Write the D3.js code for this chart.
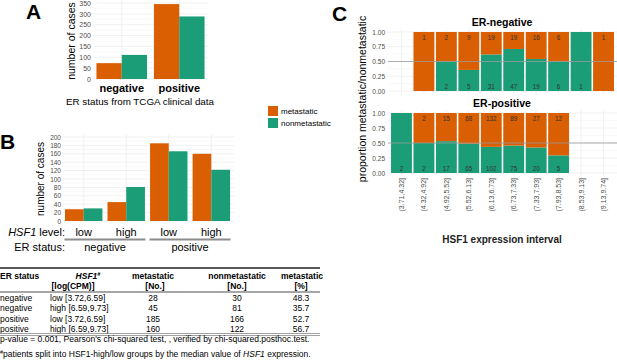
<!DOCTYPE html>
<html>
<head>
<meta charset="utf-8">
<script src="https://d3js.org/d3.v7.min.js"></script>
<style>
  body { margin: 0; background: #fff; }
  svg { font-family: "Liberation Sans", Arial, sans-serif; display: block; }
  .tick text { fill: #4d4d4d; }
</style>
</head>
<body>
<div id="chart"></div>
<script>
// ---- data ----
const colors = { metastatic: "#D95F02", nonmetastatic: "#1B9E77" };
const groups = ["metastatic", "nonmetastatic"];

// panel A
const erStatus = ["negative", "positive"];
const casesAMeta = [73, 345];
const casesANon = [111, 288];
const ticksA = [0, 50, 100, 150, 200, 250, 300, 350];

// panel B
const hsf1Level = ["low", "high", "low", "high"];
const erB = ["negative", "negative", "positive", "positive"];
const casesBMeta = [28, 45, 185, 160];
const casesBNon = [30, 81, 166, 122];
const ticksB = [0, 20, 40, 60, 80, 100, 120, 140, 160, 180, 200];

// panel C
const intervals = ["(3.71,4.32]", "(4.32,4.92]", "(4.92,5.52]", "(5.52,6.13]", "(6.13,6.73]",
  "(6.73,7.33]", "(7.33,7.93]", "(7.93,8.53]", "(8.53,9.13]", "(9.13,9.74]"];
const erNegMeta = [0, 1, 2, 9, 19, 19, 16, 6, 0, 1];
const erNegNon = [0, 0, 2, 5, 31, 47, 19, 6, 1, 0];
const erPosMeta = [0, 2, 15, 68, 132, 89, 27, 12, 0, 0];
const erPosNon = [2, 2, 17, 65, 102, 75, 20, 5, 0, 0];
const ticksC = [0, 0.25, 0.5, 0.75, 1];

// table
const tableHead1 = ["ER status", "HSF1", "metastatic", "nonmetastatic", "metastatic"];
const tableHead2 = ["", "[log(CPM)]", "[No.]", "[No.]", "[%]"];
const tableEr = ["negative", "negative", "positive", "positive"];
const tableHsf1 = ["low [3.72,6.59]", "high [6.59,9.73]", "low [3.72,6.59]", "high [6.59,9.73]"];
const tableMeta = [28, 45, 185, 160];
const tableNon = [30, 81, 166, 122];
const tablePct = ["48.3", "35.7", "52.7", "56.7"];

const W = 617, H = 363;
const svg = d3.select("#chart").append("svg").attr("width", W).attr("height", H);

const grid = "#ebebeb";

function panelLetter(t, x, y) {
  svg.append("text").attr("x", x).attr("y", y).attr("font-size", 21).attr("font-weight", "bold").text(t);
}

// ================= Panel A =================
panelLetter("A", 26, 19);
{
  const x = d3.scaleBand().domain(erStatus).range([93, 208]).paddingInner(0.12).paddingOuter(0.06);
  const xi = d3.scaleBand().domain(groups).range([0, x.bandwidth()]);
  const y = d3.scaleLinear().domain([0, 350]).range([79, 3]);
  const g = svg.append("g");
  // grid
  const minor = d3.range(25, 375, 50);
  g.selectAll(".mn").data(minor).join("line")
    .attr("x1", 93).attr("x2", 208).attr("y1", d => y(d)).attr("y2", d => y(d))
    .attr("stroke", "#f3f3f3").attr("stroke-width", 0.5);
  g.selectAll(".mj").data(ticksA).join("line")
    .attr("x1", 93).attr("x2", 208).attr("y1", d => y(d)).attr("y2", d => y(d))
    .attr("stroke", grid).attr("stroke-width", 0.7);
  g.selectAll(".vg").data(erStatus).join("line")
    .attr("x1", d => x(d) + x.bandwidth() / 2).attr("x2", d => x(d) + x.bandwidth() / 2)
    .attr("y1", 0).attr("y2", 79).attr("stroke", grid).attr("stroke-width", 0.7);
  // bars
  const data = erStatus.map((s, i) => ({ s, vals: [casesAMeta[i], casesANon[i]] }));
  data.forEach(d => {
    groups.forEach((gr, j) => {
      g.append("rect").attr("x", x(d.s) + xi(gr)).attr("width", xi.bandwidth())
        .attr("y", y(d.vals[j])).attr("height", y(0) - y(d.vals[j])).attr("fill", colors[gr]);
    });
  });
  // axes
  const ya = g.append("g").attr("transform", "translate(91,0)")
    .call(d3.axisLeft(y).tickValues(ticksA).tickSize(0).tickPadding(0));
  ya.select(".domain").remove();
  ya.selectAll("text").attr("font-size", 7).attr("font-family", null);
  g.selectAll(".xl").data(erStatus).join("text")
    .attr("x", d => x(d) + x.bandwidth() / 2).attr("y", 92).attr("text-anchor", "middle")
    .attr("font-size", 11).attr("font-weight", "bold").text(d => d);
  g.append("text").attr("transform", "translate(75,41) rotate(-90)").attr("text-anchor", "middle")
    .attr("font-size", 10.5).text("number of cases");
  g.append("text").attr("x", 140).attr("y", 105).attr("text-anchor", "middle")
    .attr("font-size", 9.8).text("ER status from TCGA clinical data");
}

// legend
{
  const lg = svg.append("g").attr("transform", "translate(268,106)");
  groups.forEach((gr, i) => {
    lg.append("rect").attr("x", 0).attr("y", i * 12).attr("width", 10).attr("height", 10).attr("fill", colors[gr]);
    lg.append("text").attr("x", 13).attr("y", i * 12 + 8).attr("font-size", 8).text(gr);
  });
}

// ================= Panel B =================
panelLetter("B", 0, 149);
{
  const keys = hsf1Level.map((d, i) => i);
  const x = d3.scaleBand().domain(keys).range([62, 233]).paddingInner(0.12).paddingOuter(0.07);
  const xi = d3.scaleBand().domain(groups).range([0, x.bandwidth()]);
  const y = d3.scaleLinear().domain([0, 200]).range([221, 137]);
  const g = svg.append("g");
  const minor = d3.range(10, 210, 20);
  g.selectAll(".mn").data(minor).join("line")
    .attr("x1", 62).attr("x2", 234).attr("y1", d => y(d)).attr("y2", d => y(d))
    .attr("stroke", "#f3f3f3").attr("stroke-width", 0.5);
  g.selectAll(".mj").data(ticksB).join("line")
    .attr("x1", 62).attr("x2", 234).attr("y1", d => y(d)).attr("y2", d => y(d))
    .attr("stroke", grid).attr("stroke-width", 0.7);
  g.selectAll(".vg").data(keys).join("line")
    .attr("x1", d => x(d) + x.bandwidth() / 2).attr("x2", d => x(d) + x.bandwidth() / 2)
    .attr("y1", 134).attr("y2", 221).attr("stroke", grid).attr("stroke-width", 0.7);
  keys.forEach(k => {
    const vals = [casesBMeta[k], casesBNon[k]];
    groups.forEach((gr, j) => {
      g.append("rect").attr("x", x(k) + xi(gr)).attr("width", xi.bandwidth())
        .attr("y", y(vals[j])).attr("height", y(0) - y(vals[j])).attr("fill", colors[gr]);
    });
  });
  const ya = g.append("g").attr("transform", "translate(61,0)")
    .call(d3.axisLeft(y).tickValues(ticksB).tickSize(0).tickPadding(0));
  ya.select(".domain").remove();
  ya.selectAll("text").attr("font-size", 6.5).attr("font-family", null);
  g.append("text").attr("transform", "translate(44,179) rotate(-90)").attr("text-anchor", "middle")
    .attr("font-size", 10).text("number of cases");

  // level row
  const lvl = g.append("text").attr("x", 65).attr("y", 236).attr("text-anchor", "end").attr("font-size", 11);
  lvl.append("tspan").attr("font-style", "italic").text("HSF1");
  lvl.append("tspan").text(" level:");
  g.selectAll(".lv").data(keys).join("text")
    .attr("x", d => x(d) + x.bandwidth() / 2).attr("y", 236).attr("text-anchor", "middle")
    .attr("font-size", 11).text(d => hsf1Level[d]);
  // ER rows
  const erGroups = ["negative", "positive"];
  erGroups.forEach(er => {
    const ks = keys.filter(k => erB[k] === er);
    const x0 = x(ks[0]) - 0.5, x1 = x(ks[ks.length - 1]) + x.bandwidth() + 0.5;
    g.append("line").attr("x1", x0).attr("x2", x1).attr("y1", 239.5).attr("y2", 239.5)
      .attr("stroke", "#8c8c8c").attr("stroke-width", 2);
    g.append("text").attr("x", (x0 + x1) / 2).attr("y", 251).attr("text-anchor", "middle")
      .attr("font-size", 11).text(er);
  });
  g.append("text").attr("x", 65).attr("y", 251).attr("text-anchor", "end").attr("font-size", 11).text("ER status:");
}

// ================= Panel C =================
panelLetter("C", 332, 21);
{
  const x = d3.scaleBand().domain(intervals).range([388, 617]).paddingInner(0.07).paddingOuter(0.135);
  const facets = [
    { title: "ER-negative", meta: erNegMeta, non: erNegNon, top: 32, bottom: 91, ty: 26 },
    { title: "ER-positive", meta: erPosMeta, non: erPosNon, top: 113, bottom: 173, ty: 107 }
  ];
  facets.forEach(f => {
    const y = d3.scaleLinear().domain([0, 1]).range([f.bottom, f.top]);
    const g = svg.append("g");
    const minor = [0.125, 0.375, 0.625, 0.875];
    g.selectAll(".mn").data(minor).join("line")
      .attr("x1", 388).attr("x2", 617).attr("y1", d => y(d)).attr("y2", d => y(d))
      .attr("stroke", "#f3f3f3").attr("stroke-width", 0.5);
    g.selectAll(".mj").data(ticksC).join("line")
      .attr("x1", 388).attr("x2", 617).attr("y1", d => y(d)).attr("y2", d => y(d))
      .attr("stroke", grid).attr("stroke-width", 0.7);
    g.selectAll(".vg").data(intervals).join("line")
      .attr("x1", d => x(d) + x.bandwidth() / 2).attr("x2", d => x(d) + x.bandwidth() / 2)
      .attr("y1", f.top - 3).attr("y2", f.bottom + 3).attr("stroke", grid).attr("stroke-width", 0.7);
    intervals.forEach((iv, i) => {
      const m = f.meta[i], n = f.non[i], tot = m + n;
      if (tot === 0) return;
      const pn = n / tot;
      // nonmetastatic at the bottom, metastatic stacked on top
      g.append("rect").attr("x", x(iv)).attr("width", x.bandwidth())
        .attr("y", y(pn)).attr("height", y(0) - y(pn)).attr("fill", colors.nonmetastatic);
      g.append("rect").attr("x", x(iv)).attr("width", x.bandwidth())
        .attr("y", y(1)).attr("height", y(pn) - y(1)).attr("fill", colors.metastatic);
      const cx = x(iv) + x.bandwidth() / 2;
      if (m > 0) g.append("text").attr("x", cx).attr("y", y(0.9)).attr("dy", "0.35em")
        .attr("text-anchor", "middle").attr("font-size", 6.3).attr("fill", "#333").text(m);
      if (n > 0) g.append("text").attr("x", cx).attr("y", y(0.065)).attr("dy", "0.35em")
        .attr("text-anchor", "middle").attr("font-size", 6.3).attr("fill", "#333").text(n);
    });
    g.append("line").attr("x1", 388).attr("x2", 617).attr("y1", y(0.5)).attr("y2", y(0.5))
      .attr("stroke", "#9a9a9a").attr("stroke-width", 0.8);
    const ya = g.append("g").attr("transform", "translate(385,0)")
      .call(d3.axisLeft(y).tickValues(ticksC).tickFormat(d3.format(".2f")).tickSize(0).tickPadding(0));
    ya.select(".domain").remove();
    ya.selectAll("text").attr("font-size", 6.5).attr("font-family", null);
    g.append("text").attr("x", 502).attr("y", f.ty).attr("text-anchor", "middle")
      .attr("font-size", 10.5).attr("font-weight", "bold").text(f.title);
  });
  // x labels
  svg.selectAll(".xc").data(intervals).join("text")
    .attr("transform", d => `translate(${x(d) + x.bandwidth() / 2 + 2.5},178) rotate(-90)`)
    .attr("text-anchor", "end").attr("font-size", 7).attr("fill", "#4d4d4d").text(d => d);
  svg.append("text").attr("x", 502).attr("y", 243).attr("text-anchor", "middle")
    .attr("font-size", 10).attr("font-weight", "bold").attr("fill", "#222").text("HSF1 expression interval");
  svg.append("text").attr("transform", "translate(366,99) rotate(-90)").attr("text-anchor", "middle")
    .attr("font-size", 10.5).text("proportion metastatic/nonmetastatic");
}

// ================= Table =================
{
  const g = svg.append("g").attr("font-size", 8.5);
  const cols = [
    { x: 0, anchor: "start" },
    { x: 50, anchor: "start" },
    { x: 153, anchor: "middle" },
    { x: 237, anchor: "middle" },
    { x: 301, anchor: "middle" }
  ];
  const headX = [0, 88, 153, 237, 302];
  g.append("line").attr("x1", 0).attr("x2", 320).attr("y1", 268).attr("y2", 268).attr("stroke", "#222").attr("stroke-width", 1.5);
  tableHead1.forEach((t, i) => {
    const tx = g.append("text").attr("x", headX[i]).attr("y", 279)
      .attr("text-anchor", i === 0 ? "start" : "middle").attr("font-weight", "bold");
    if (i === 1) {
      tx.attr("font-style", "italic").text(t);
      tx.append("tspan").attr("dy", -3).attr("font-size", 5.5).text("#");
    } else tx.text(t);
  });
  const head2X = [0, 73, 155, 237, 301];
  tableHead2.forEach((t, i) => {
    if (!t) return;
    g.append("text").attr("x", head2X[i]).attr("y", 289).attr("text-anchor", "middle")
      .attr("font-weight", "bold").text(t);
  });
  g.append("line").attr("x1", 0).attr("x2", 320).attr("y1", 292).attr("y2", 292).attr("stroke", "#222").attr("stroke-width", 0.8);
  tableEr.forEach((er, r) => {
    const vals = [er, tableHsf1[r], tableMeta[r], tableNon[r], tablePct[r]];
    vals.forEach((v, i) => {
      g.append("text").attr("x", cols[i].x).attr("y", 300.5 + r * 10.6)
        .attr("text-anchor", cols[i].anchor).text(v);
    });
  });
  g.append("line").attr("x1", 0).attr("x2", 320).attr("y1", 333.5).attr("y2", 333.5).attr("stroke", "#888").attr("stroke-width", 0.8);
  g.append("line").attr("x1", 0).attr("x2", 320).attr("y1", 335.5).attr("y2", 335.5).attr("stroke", "#888").attr("stroke-width", 0.8);
  g.append("text").attr("x", 0).attr("y", 342).text("p-value = 0.001, Pearson's chi-squared test, , verified by chi-squared.posthoc.test.");
  const fn = g.append("text").attr("x", 0).attr("y", 357);
  fn.append("tspan").attr("font-size", 5.5).attr("dy", -3).text("#");
  fn.append("tspan").attr("dy", 3).text("patients split into HSF1-high/low groups by the median value of ");
  fn.append("tspan").attr("font-style", "italic").text("HSF1");
  fn.append("tspan").text(" expression.");
}
</script>
</body>
</html>
